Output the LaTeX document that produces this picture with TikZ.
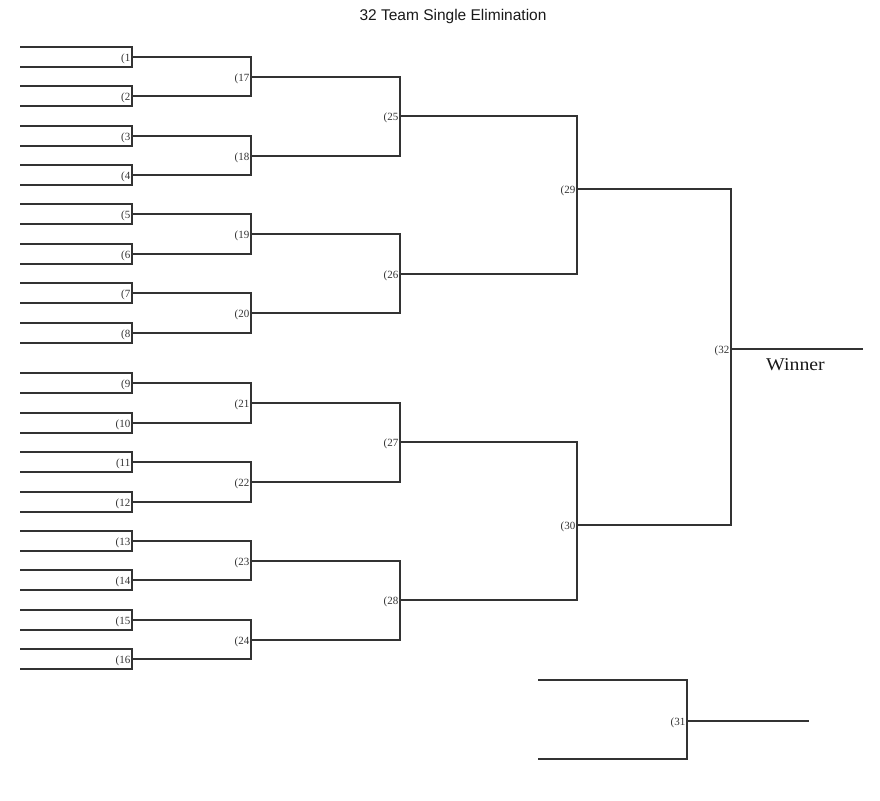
\documentclass[tikz,border=0pt]{standalone}
\usepackage{fontspec}
\setmainfont{Liberation Serif}
\newfontfamily\titlefont{Liberation Sans}
\usetikzlibrary{calc}
\begin{document}
\begin{tikzpicture}[x=1pt,y=-1pt,
  bline/.style={draw=black!80, line width=2pt},
  glabel/.style={anchor=east, inner sep=0pt, text=black!80, font=\fontsize{11}{11}\selectfont},
  titlestyle/.style={anchor=base, inner sep=0pt, text=black!90, font=\titlefont\fontsize{15.5}{15.5}\selectfont},
  winstyle/.style={anchor=base west, inner sep=0pt, text=black!90, font=\fontsize{18}{18}\selectfont}]
\useasboundingbox (0,0) rectangle (880,800);

\node[titlestyle] (title) at (453,20.5) {32 Team Single Elimination};

% Round 1
\foreach \c [count=\i] in {57,96,136,175,214,254,293,333,383,423,462,502,541,580,620,659}{
  \coordinate (g\i) at (132,\c);
  \coordinate (ta\i) at (20,\c-10);
  \coordinate (tb\i) at (20,\c+10);
  \draw[bline] (ta\i) -| (g\i) |- (tb\i);
  \node[glabel] (l\i) at ($(g\i)+(-1.5,1.5)$) {(\i};
}

% Round 2
\foreach \c [count=\k] in {77,156,234,313,403,482,561,640}{
  \pgfmathtruncatemacro{\a}{2*\k-1}
  \pgfmathtruncatemacro{\b}{2*\k}
  \pgfmathtruncatemacro{\n}{16+\k}
  \coordinate (g\n) at (251,\c);
  \draw[bline] (g\a) -| (g\n);
  \draw[bline] (g\b) -| (g\n);
  \node[glabel] (l\n) at ($(g\n)+(-1.5,1.5)$) {(\n};
}

% Round 3
\foreach \c [count=\k] in {116,274,442,600}{
  \pgfmathtruncatemacro{\a}{16+2*\k-1}
  \pgfmathtruncatemacro{\b}{16+2*\k}
  \pgfmathtruncatemacro{\n}{24+\k}
  \coordinate (g\n) at (400,\c);
  \draw[bline] (g\a) -| (g\n);
  \draw[bline] (g\b) -| (g\n);
  \node[glabel] (l\n) at ($(g\n)+(-1.5,1.5)$) {(\n};
}

% Round 4
\coordinate (g29) at (577,189);
\coordinate (g30) at (577,525);
\draw[bline] (g25) -| (g29);
\draw[bline] (g26) -| (g29);
\draw[bline] (g27) -| (g30);
\draw[bline] (g28) -| (g30);
\node[glabel] (l29) at ($(g29)+(-1.5,1.5)$) {(29};
\node[glabel] (l30) at ($(g30)+(-1.5,1.5)$) {(30};

% Final
\coordinate (g32) at (731,349);
\coordinate (win) at (863,349);
\draw[bline] (g29) -| (g32);
\draw[bline] (g30) -| (g32);
\draw[bline] (g32) -- (win);
\node[glabel] (l32) at ($(g32)+(-1.5,1.5)$) {(32};
\node[winstyle] (wtext) at (766,370.5) {\scalebox{1.1}[1]{Winner}};

% Third place
\coordinate (s1) at (538,680);
\coordinate (s2) at (538,759);
\coordinate (g31) at (687,721);
\coordinate (f31) at (809,721);
\draw[bline] (s1) -| (g31);
\draw[bline] (s2) -| (g31);
\draw[bline] (g31) -- (f31);
\node[glabel] (l31) at ($(g31)+(-1.5,1.5)$) {(31};
\end{tikzpicture}
\end{document}
